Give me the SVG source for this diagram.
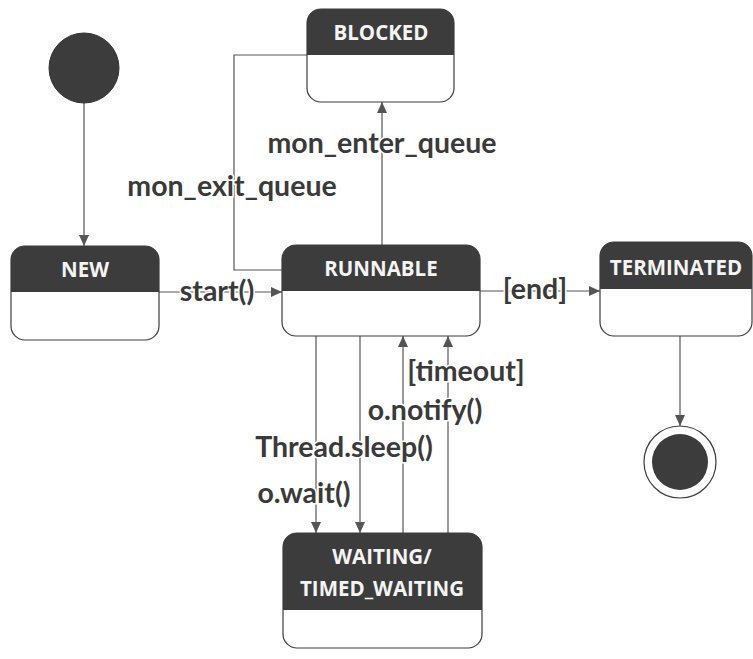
<svg xmlns="http://www.w3.org/2000/svg" width="753" height="659" viewBox="0 0 753 659">
<style>
.hdr{fill:#3c3c3c}
.box{fill:#fff;stroke:#3c3c3c;stroke-width:1.2}
.ht{font-family:"Open Sans","Liberation Sans",sans-serif;font-weight:700;font-size:20.5px;fill:#f4f4f4;text-anchor:middle}
.lbl{font-family:Lato,"Liberation Sans",sans-serif;font-weight:700;font-size:28.5px;fill:#3a3a3a;text-anchor:middle;paint-order:stroke;stroke:#fff;stroke-width:3}
.ln{fill:none;stroke:#555;stroke-width:1.2}
</style>
<defs>
<marker id="ah" markerWidth="12" markerHeight="12" refX="11" refY="6" orient="auto" markerUnits="userSpaceOnUse">
<path d="M0,1 L11,6 L0,11 Z" fill="#555"/>
</marker>
</defs>
<rect width="753" height="659" fill="#fff"/>
<g id="connectors">
<path class="ln" d="M84,103 V246" marker-end="url(#ah)"/>
<path class="ln" d="M159,292 H282" marker-end="url(#ah)"/>
<path class="ln" d="M307,55 H234 V270 H282"/>
<path class="ln" d="M382,245 V102" marker-end="url(#ah)"/>
<path class="ln" d="M480,291 H600" marker-end="url(#ah)"/>
<path class="ln" d="M680,336 V426" marker-end="url(#ah)"/>
<path class="ln" d="M316,336 V533" marker-end="url(#ah)"/>
<path class="ln" d="M360,336 V533" marker-end="url(#ah)"/>
<path class="ln" d="M403,533 V336" marker-end="url(#ah)"/>
<path class="ln" d="M448,533 V336" marker-end="url(#ah)"/>
<text class="lbl" x="382" y="153">mon_enter_queue</text>
<text class="lbl" x="232" y="196">mon_exit_queue</text>
<text class="lbl" x="217" y="301">start()</text>
<text class="lbl" x="535" y="299">[end]</text>
<text class="lbl" x="466" y="381">[timeout]</text>
<text class="lbl" x="425" y="420">o.notify()</text>
<text class="lbl" x="344" y="457">Thread.sleep()</text>
<text class="lbl" x="304" y="503">o.wait()</text>
</g>
<g id="initial">
<circle cx="84" cy="68" r="35" fill="#3c3c3c" stroke="#333" stroke-width="1"/>
</g>
<g id="new">
<rect class="box" x="11" y="246" width="148" height="94" rx="14"/>
<path class="hdr" d="M25,246 H145 A14,14 0 0 1 159,260 V292 H11 V260 A14,14 0 0 1 25,246 Z"/>
<text class="ht" x="85" y="277">NEW</text>
</g>
<g id="blocked">
<rect class="box" x="307" y="9" width="147" height="93" rx="14"/>
<path class="hdr" d="M321,9 H440 A14,14 0 0 1 454,23 V55 H307 V23 A14,14 0 0 1 321,9 Z"/>
<text class="ht" x="381" y="40">BLOCKED</text>
</g>
<g id="runnable">
<rect class="box" x="282" y="245" width="198" height="91" rx="14"/>
<path class="hdr" d="M296,245 H466 A14,14 0 0 1 480,259 V291 H282 V259 A14,14 0 0 1 296,245 Z"/>
<text class="ht" x="381" y="276">RUNNABLE</text>
</g>
<g id="terminated">
<rect class="box" x="600" y="242" width="152" height="94" rx="14"/>
<path class="hdr" d="M614,242 H738 A14,14 0 0 1 752,256 V289 H600 V256 A14,14 0 0 1 614,242 Z"/>
<text class="ht" x="676" y="275">TERMINATED</text>
</g>
<g id="waiting">
<rect class="box" x="283" y="533" width="199" height="115" rx="14"/>
<path class="hdr" d="M297,533 H468 A14,14 0 0 1 482,547 V610 H283 V547 A14,14 0 0 1 297,533 Z"/>
<text class="ht" x="382" y="564">WAITING/</text>
<text class="ht" x="382" y="596">TIMED_WAITING</text>
</g>
<g id="final">
<circle cx="680" cy="462" r="36" fill="#fff" stroke="#3c3c3c" stroke-width="1.2"/>
<circle cx="680" cy="462" r="28" fill="#3c3c3c"/>
</g>
</svg>
